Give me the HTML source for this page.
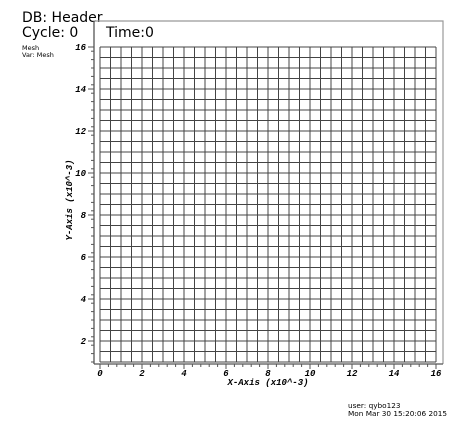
<!DOCTYPE html>
<html><head><meta charset="utf-8"><style>
body{margin:0;background:#fff;width:468px;height:429px;overflow:hidden}
svg{display:block}
.h{font-family:"DejaVu Sans","Liberation Sans",sans-serif;fill:#000}
.t{font-family:"Liberation Mono",monospace;font-weight:bold;font-style:italic;font-size:9px;fill:#000}
</style></head><body>
<svg id="c" width="468" height="429">
<text class="h" x="22" y="22" font-size="14">DB: Header</text>
<text class="h" x="22" y="37" font-size="14">Cycle: 0</text>
<text class="h" x="106" y="37" font-size="14">Time:0</text>
<text class="h" x="22" y="50" font-size="6.5">Mesh</text>
<text class="h" x="22" y="57" font-size="6.5">Var: Mesh</text>
<polyline points="94,364 94,21 443,21 443,364" fill="none" stroke="#999" stroke-width="1.2"/>
<g id="grid"></g>
<g id="axes"></g>
<text class="t" x="268" y="385" text-anchor="middle">X-Axis (x10^-3)</text>
<text class="t" transform="translate(72,200) rotate(-90)" text-anchor="middle">Y-Axis (x10^-3)</text>
<text class="h" x="348" y="408" font-size="7.3">user: qybo123</text>
<text class="h" x="348" y="416" font-size="7.3">Mon Mar 30 15:20:06 2015</text>
</svg>
<script>
const xTicks=[0,2,4,6,8,10,12,14,16];
const yTicks=[2,4,6,8,10,12,14,16];
const meshX=[0,16]; const meshY=[1,16]; const cellSize=[0.5];
const NS='http://www.w3.org/2000/svg';
const sx=v=>100+v*21, sy=v=>362-(v-1)*21;
function mk(tag,attrs,parent){const e=document.createElementNS(NS,tag);for(const k in attrs)e.setAttribute(k,attrs[k]);parent.appendChild(e);return e;}
const g=document.getElementById('grid'), a=document.getElementById('axes');
for(let v=meshX[0];v<=meshX[1]+1e-9;v+=cellSize[0]){
 const l=mk('line',{x1:sx(v),x2:sx(v),y1:sy(meshY[0]),y2:sy(meshY[1]),stroke:'#444','stroke-width':1},g);
 
 
}
for(let v=meshY[0];v<=meshY[1]+1e-9;v+=cellSize[0]){
 const l=mk('line',{x1:sx(meshX[0]),x2:sx(meshX[1]),y1:sy(v),y2:sy(v),stroke:'#444','stroke-width':1},g);
 
 
}
mk('line',{x1:94,x2:443,y1:364,y2:364,stroke:'#555','stroke-width':1.2},a);
mk('line',{x1:94,x2:94,y1:21,y2:364,stroke:'#555','stroke-width':1.2},a);
for(let v=0;v<=16.01;v+=0.4){const maj=Math.abs(v/2-Math.round(v/2))<1e-6;
 mk('line',{x1:sx(v),x2:sx(v),y1:364,y2:maj?369:367,stroke:'#555'},a);}
for(let v=0.2;v<=16.01;v+=0.4){const maj=Math.abs(v/2-Math.round(v/2))<1e-6;
 if(sy(v)<21||sy(v)>363)continue; mk('line',{x1:maj?89:91,x2:94,y1:sy(v),y2:sy(v),stroke:'#555'},a);}
xTicks.forEach(v=>{const t=mk('text',{x:sx(v),y:376,'text-anchor':'middle',class:'t'},a);t.textContent=v;
 
 
 mk('line',{x1:sx(v),x2:sx(v),y1:364,y2:369,stroke:'#555'},a);});
yTicks.forEach(v=>{const t=mk('text',{x:86,y:sy(v)+3,'text-anchor':'end',class:'t'},a);t.textContent=v;
 
 
 mk('line',{x1:88,x2:94,y1:sy(v),y2:sy(v),stroke:'#555'},a);});
</script>
</body></html>
